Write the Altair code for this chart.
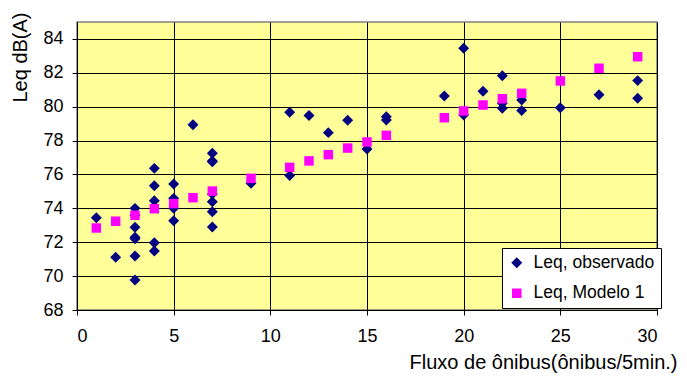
import altair as alt
import pandas as pd

obs_x = [1, 2, 3, 3, 3, 3, 3, 3, 3, 4, 4, 4, 4, 4, 5, 5, 5, 5, 6,
         7, 7, 7, 7, 7, 7, 7, 9, 11, 11, 12, 13, 14, 15, 16, 16,
         19, 20, 20, 21, 22, 22, 22, 23, 23, 25, 27, 29, 29]
obs_y = [73.45, 71.11, 74.0, 73.6, 72.88, 72.29, 72.2, 71.19, 69.77,
         76.36, 75.34, 74.45, 71.97, 71.48, 75.44, 74.59, 74.0, 73.27, 78.94,
         77.25, 76.75, 74.85, 74.39, 73.80, 72.9, 76.8, 75.48, 79.67, 75.94, 79.48, 78.47, 79.20, 77.50, 79.41, 79.22,
         80.63, 83.45, 79.51, 80.91, 81.83, 80.20, 79.91, 80.40, 79.77, 79.94, 80.71, 81.54, 80.50]

mod_x = [1, 2, 3, 4, 5, 6, 7, 9, 11, 12, 13, 14, 15, 16, 19, 20, 21, 22, 23, 25, 27, 29]
mod_y = [72.84, 73.24, 73.59, 73.98, 74.28, 74.63, 75.02, 75.77, 76.42, 76.80, 77.17,
         77.56, 77.92, 78.31, 79.35, 79.75, 80.10, 80.47, 80.79, 81.52, 82.27, 82.95]

series = ["Leq, observado", "Leq, Modelo 1"]
x_ticks = [0, 5, 10, 15, 20, 25, 30]
y_ticks = [68, 70, 72, 74, 76, 78, 80, 82, 84]

df = pd.DataFrame(
    {"x": obs_x + mod_x,
     "y": obs_y + mod_y,
     "s": [series[0]] * len(obs_x) + [series[1]] * len(mod_x)}
)

FONT = "Liberation Sans"

chart = alt.Chart(df).mark_point(filled=True, opacity=1).encode(
    x=alt.X("x:Q",
            scale=alt.Scale(domain=[0, 30], nice=False, zero=False),
            axis=alt.Axis(values=x_ticks, title="Fluxo de ônibus(ônibus/5min.)",
                          titleX=600, titleY=52, titleAlign="right", titleBaseline="middle",
                          labelPadding=12)),
    y=alt.Y("y:Q",
            scale=alt.Scale(domain=[68, 85], nice=False, zero=False),
            axis=alt.Axis(values=y_ticks, title="Leq dB(A)",
                          titleX=-57, titleY=35, titleAngle=270, titleAlign="center",
                          titleBaseline="middle", labelPadding=9)),
    color=alt.Color("s:N", scale=alt.Scale(domain=series, range=["#000080", "#FF00FF"]),
                    legend=alt.Legend(title=None, orient="none", legendX=425, legendY=226,
                                      fillColor="white", strokeColor="black", padding=6,
                                      labelFont=FONT, labelFontSize=17.5, labelColor="black",
                                      symbolSize=75, rowPadding=11.5, labelOffset=8,
                                      symbolOpacity=1)),
    shape=alt.Shape("s:N", scale=alt.Scale(domain=series, range=["diamond", "square"]),
                    legend=None),
    size=alt.Size("s:N", scale=alt.Scale(domain=series, range=[120, 90]), legend=None),
).properties(
    width=580, height=288,
    autosize=alt.AutoSizeParams(type="none"),
    padding={"left": 69, "top": 14, "right": 22, "bottom": 66},
).configure_view(
    fill="#FFFF99", stroke="#808080", strokeWidth=1.5
).configure_axis(
    grid=True, gridColor="black", gridOpacity=1, gridWidth=1,
    domainColor="black", tickColor="black", tickSize=5,
    labelFont=FONT, labelFontSize=18, labelColor="black",
    titleFont=FONT, titleFontSize=20, titleFontWeight="normal", titleColor="black",
)

chart.save("out.html", embed_options={"renderer": "svg", "actions": False})
